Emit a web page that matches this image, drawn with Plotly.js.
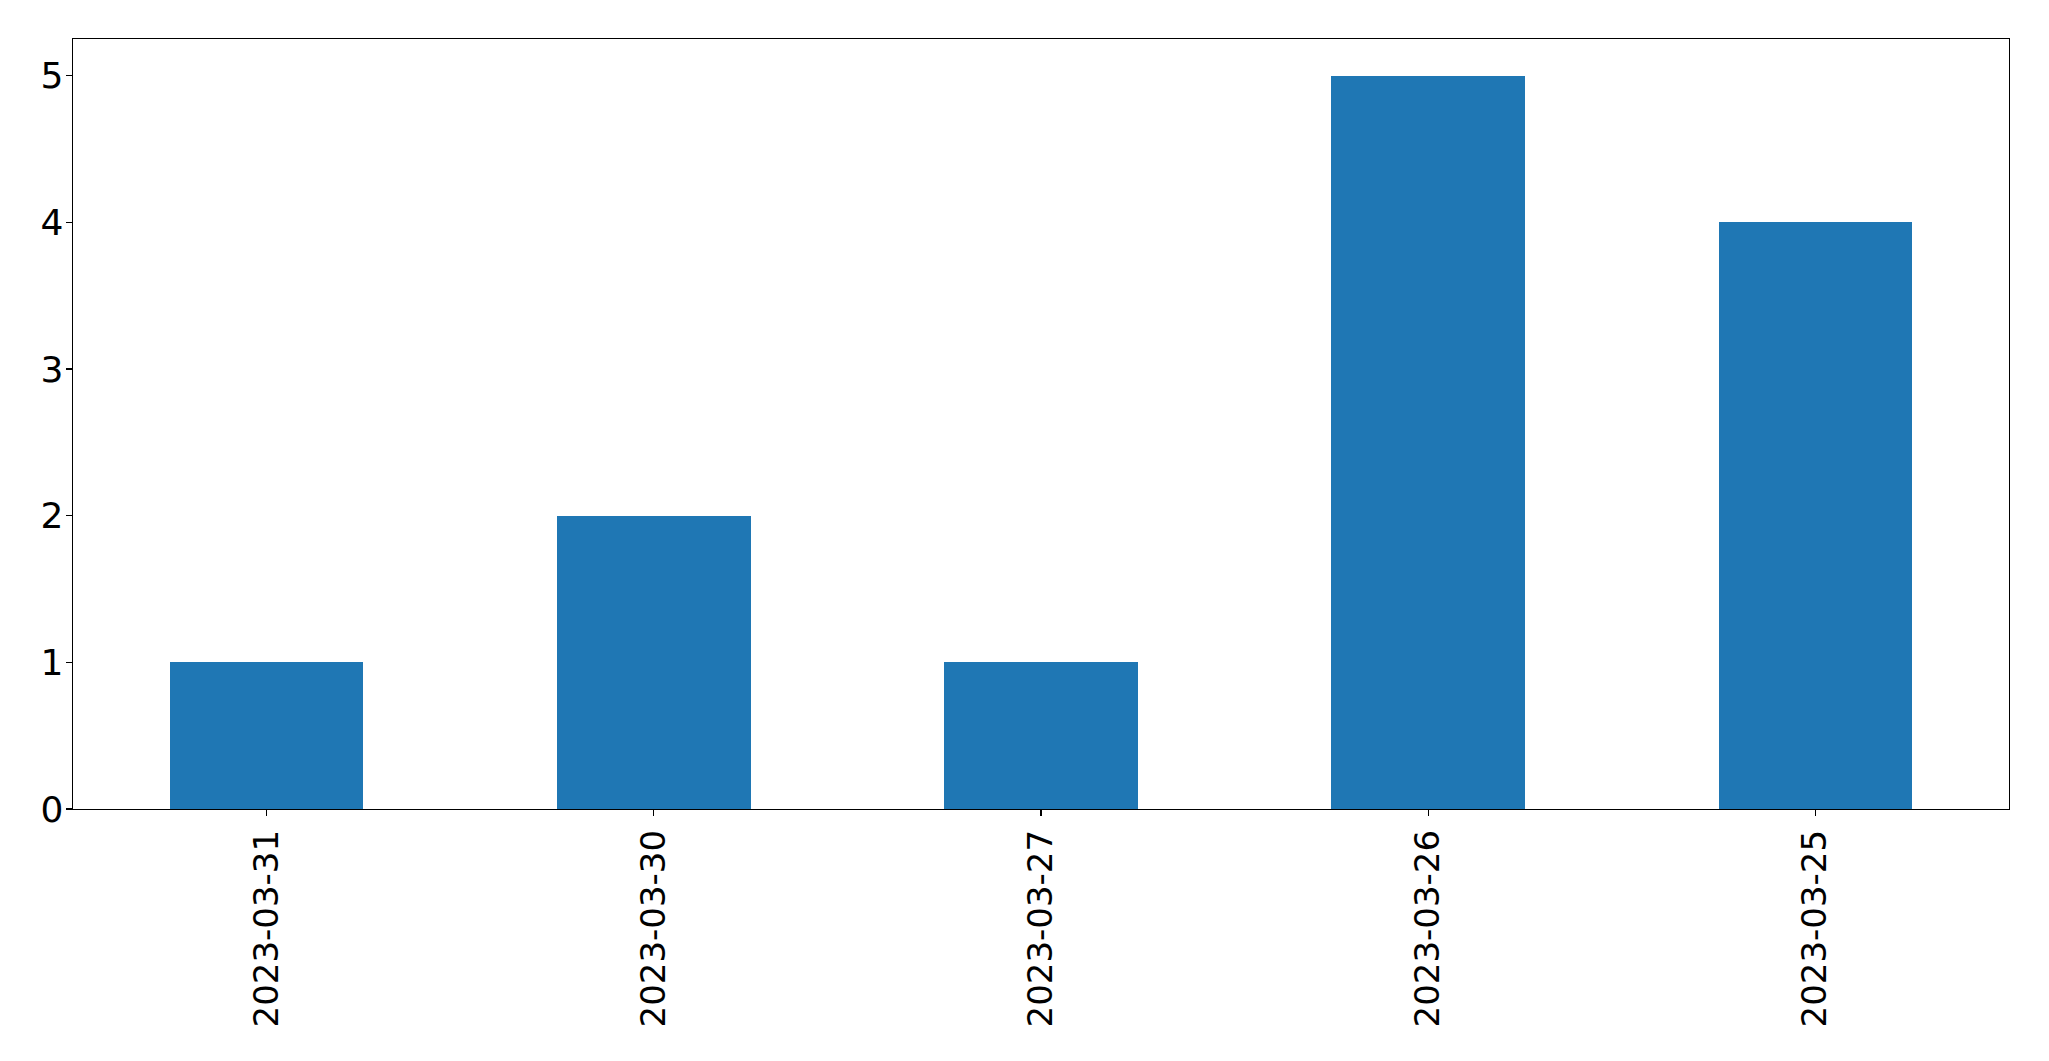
<!DOCTYPE html>
<html>
<head>
<meta charset="utf-8">
<script src="https://cdn.plot.ly/plotly-3.0.1.min.js"></script>
<style>html,body{margin:0;padding:0;background:#fff;}#chart{width:2049px;height:1061px;}</style>
</head>
<body>
<div id="chart"></div>
<script>
const categories = ["2023-03-31", "2023-03-30", "2023-03-27", "2023-03-26", "2023-03-25"];
const counts = [1, 2, 1, 5, 4];
const yTicks = [0, 1, 2, 3, 4, 5];

const trace = {
  type: "bar",
  x: categories,
  y: counts,
  width: 0.5,
  marker: {color: "#1f77b4", line: {width: 0}},
  hoverinfo: "x+y"
};

const axisCommon = {
  showline: true,
  linecolor: "#000",
  linewidth: 1.3,
  mirror: true,
  ticks: "outside",
  ticklen: 6,
  tickwidth: 1.3,
  tickcolor: "#000",
  showgrid: false,
  zeroline: false
};

const layout = {
  width: 2049,
  height: 1061,
  margin: {l: 72.5, r: 39.7, t: 39.3, b: 251.7, pad: 0},
  paper_bgcolor: "#fff",
  plot_bgcolor: "#fff",
  showlegend: false,
  bargap: 0,
  xaxis: Object.assign({}, axisCommon, {
    type: "category",
    range: [-0.5, categories.length - 0.5],
    tickangle: -90,
    tickfont: {family: "DejaVu Sans", size: 34, color: "#000"}
  }),
  yaxis: Object.assign({}, axisCommon, {
    range: [0, 5.25],
    tickvals: yTicks,
    ticktext: yTicks.map(String),
    ticklabelstandoff: -5,
    tickfont: {family: "DejaVu Sans", size: 36, color: "#000"}
  })
};

Plotly.newPlot("chart", [trace], layout, {displayModeBar: false, staticPlot: true});
</script>
</body>
</html>
